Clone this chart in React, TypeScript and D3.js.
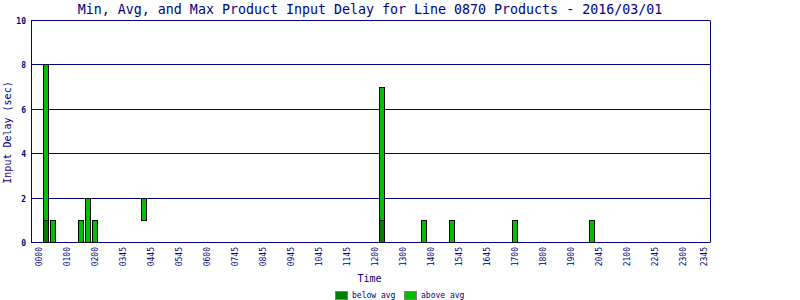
import React from "react";
import * as d3 from "d3";

const title = "Min, Avg, and Max Product Input Delay for Line 0870 Products - 2016/03/01";
const slotCount = 96;
const barSlots = [1, 2, 6, 7, 8, 15, 49, 55, 59, 68, 79];
const minVals = [0, 0, 0, 0, 0, 1, 0, 0, 0, 0, 0];
const avgVals = [1, 0, 0, 0, 0, 1, 1, 0, 0, 0, 0];
const maxVals = [8, 1, 1, 2, 1, 2, 7, 1, 1, 1, 1];
const tickSlots = [0, 4, 8, 12, 16, 20, 24, 28, 32, 36, 40, 44, 48, 52, 56, 60, 64, 68, 72, 76, 80, 84, 88, 92, 95];
const tickLabels = ["0000", "0100", "0200", "0345", "0445", "0545", "0600", "0745", "0845", "0945", "1045", "1145", "1200", "1300", "1400", "1545", "1645", "1700", "1800", "1900", "2045", "2100", "2245", "2300", "2345"];
const yTicks = [0, 2, 4, 6, 8, 10];
const legendLabels = ["below avg", "above avg"];
const legendColors = ["#008000", "#00C000"];

const NAVY = "#000080";
const FONT = "'DejaVu Sans Mono', monospace";

export default function App() {
  const left = 31, right = 710, top = 20, bottom = 242;
  const y = d3.scaleLinear().domain([0, 10]).range([bottom, top]);
  const x = d3.scaleBand<number>().domain(d3.range(slotCount)).range([35.3, 707.3]);
  const py = (v: number) => Math.round(y(v)) + 0.5;

  return (
    <svg width={800} height={300} style={{ position: "absolute", left: 0, top: 0, background: "#fff" }}>
      <rect x={0} y={0} width={800} height={300} fill="#fff" />
      <text x={370} y={14} textAnchor="middle" fontFamily={FONT} fontSize={13.3} fill={NAVY}>{title}</text>
      {yTicks.map((t) => (
        <g key={t}>
          <line x1={left} x2={right} y1={py(t)} y2={py(t)} stroke={NAVY} strokeWidth={1} />
          <text x={26} y={py(t) + 3} textAnchor="end" fontFamily={FONT} fontSize={8} fontWeight="bold" fill={NAVY}>{t}</text>
        </g>
      ))}
      <line x1={left + 0.5} x2={left + 0.5} y1={py(10)} y2={py(0)} stroke={NAVY} />
      <line x1={right + 0.5} x2={right + 0.5} y1={py(10)} y2={py(0)} stroke={NAVY} />
      {barSlots.map((s, i) => {
        const bx = Math.floor(x(s)!) + 1.5;
        const w = 5;
        const yMin = py(minVals[i]);
        const yAvg = py(avgVals[i]);
        const yMax = py(maxVals[i]);
        return (
          <g key={s}>
            {yMin - yAvg > 0 && (
              <rect x={bx} y={yAvg} width={w} height={yMin - yAvg} fill={legendColors[0]} stroke="#000" strokeWidth={1} />
            )}
            {yAvg - yMax > 0 && (
              <rect x={bx} y={yMax} width={w} height={yAvg - yMax} fill={legendColors[1]} stroke="#000" strokeWidth={1} />
            )}
          </g>
        );
      })}
      {tickSlots.map((s, i) => {
        const cx = x(s)! + x.bandwidth() / 2 + 3;
        return (
          <text key={i} transform={`translate(${cx},247) rotate(-90)`} textAnchor="end" fontFamily={FONT} fontSize={8} fill={NAVY}>
            {tickLabels[i]}
          </text>
        );
      })}
      <text x={369.5} y={282} textAnchor="middle" fontFamily={FONT} fontSize={10} fill={NAVY}>Time</text>
      <text transform={`translate(11,132.5) rotate(-90)`} textAnchor="middle" fontFamily={FONT} fontSize={10} fill={NAVY}>Input Delay (sec)</text>
      {legendLabels.map((l, i) => (
        <g key={l}>
          <rect x={335.5 + i * 69} y={291.5} width={12} height={8} fill={legendColors[i]} stroke="#808080" strokeWidth={1} />
          <text x={352 + i * 69} y={298} fontFamily={FONT} fontSize={8} fill={NAVY}>{l}</text>
        </g>
      ))}
    </svg>
  );
}
